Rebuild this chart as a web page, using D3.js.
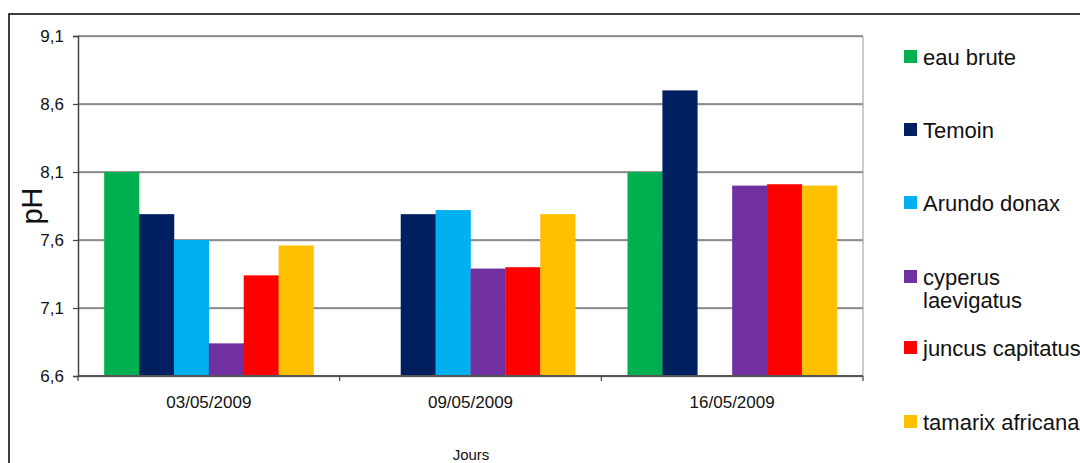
<!DOCTYPE html>
<html>
<head>
<meta charset="utf-8">
<script src="https://cdn.jsdelivr.net/npm/d3@7"></script>
<style>
  html, body { margin: 0; padding: 0; background: #fff; }
  svg { display: block; font-family: "Liberation Sans", Arial, sans-serif; }
</style>
</head>
<body>
<svg id="chart" width="1080" height="463"></svg>
<script>
// ---- data ----
const categories = ["03/05/2009", "09/05/2009", "16/05/2009"];
const seriesNames = ["eau brute", "Temoin", "Arundo donax", "cyperus laevigatus", "juncus capitatus", "tamarix africana"];
const seriesColors = ["#00B050", "#002060", "#00B0F0", "#7030A0", "#FF0000", "#FFC000"];
const eauBrute   = [8.1, null, 8.1];
const temoin     = [7.79, 7.79, 8.7];
const arundo     = [7.6, 7.82, null];
const cyperus    = [6.84, 7.39, 8.0];
const juncus     = [7.34, 7.4, 8.01];
const tamarix    = [7.56, 7.79, 8.0];
const yTicks     = [6.6, 7.1, 7.6, 8.1, 8.6, 9.1];
const yTitle = "pH";
const xTitle = "Jours";

const seriesValues = [eauBrute, temoin, arundo, cyperus, juncus, tamarix];

const svg = d3.select("#chart");
const plot = { left: 78, right: 863, top: 36, bottom: 376 };

// outer border
svg.append("rect")
  .attr("x", 9).attr("y", 14).attr("width", 1100).attr("height", 500)
  .attr("fill", "none").attr("stroke", "#000").attr("stroke-width", 1.5);

const y = d3.scaleLinear().domain([6.6, 9.1]).range([plot.bottom, plot.top]);
const x0 = d3.scaleBand().domain(categories).range([plot.left, plot.right])
  .paddingInner(0).paddingOuter(0);
const bw = x0.bandwidth() / (seriesNames.length + 1.5);
const groupPad = (x0.bandwidth() - bw * seriesNames.length) / 2;

const fmt = d3.formatLocale({ decimal: ",", thousands: " ", grouping: [3], currency: ["", ""] }).format(".1f");

// gridlines
const grid = svg.append("g");
yTicks.forEach(t => {
  grid.append("line")
    .attr("x1", plot.left).attr("x2", plot.right)
    .attr("y1", y(t) + 1).attr("y2", y(t) + 1)
    .attr("stroke", "#d0d0d0").attr("stroke-width", 1);
  grid.append("line")
    .attr("x1", plot.left).attr("x2", plot.right)
    .attr("y1", y(t)).attr("y2", y(t))
    .attr("stroke", "#333").attr("stroke-width", 1.2);
});

// right plot border
svg.append("line")
  .attr("x1", plot.right).attr("x2", plot.right)
  .attr("y1", plot.top).attr("y2", plot.bottom)
  .attr("stroke", "#999").attr("stroke-width", 1);

// bars
const bars = svg.append("g");
seriesValues.forEach((vals, si) => {
  vals.forEach((v, ci) => {
    if (v === null) return;
    const bx = x0(categories[ci]) + groupPad + si * bw;
    bars.append("rect")
      .attr("x", bx).attr("y", y(v))
      .attr("width", bw + 0.3).attr("height", y(6.6) - y(v))
      .attr("fill", seriesColors[si]);
  });
});

// y axis
const yAxis = d3.axisLeft(y).tickValues(yTicks).tickFormat(fmt).tickSize(5).tickPadding(9);
const yg = svg.append("g").attr("transform", `translate(${plot.left},0)`).call(yAxis);
yg.select(".domain").attr("stroke", "#444").attr("stroke-width", 1.5);
yg.selectAll(".tick line").attr("stroke", "#444").attr("stroke-width", 1.2);
yg.selectAll(".tick text").attr("font-size", 17).attr("fill", "#111")
  .attr("font-family", "Liberation Sans, Arial, sans-serif");

// x axis baseline
svg.append("line")
  .attr("x1", plot.left).attr("x2", plot.right)
  .attr("y1", plot.bottom).attr("y2", plot.bottom)
  .attr("stroke", "#555").attr("stroke-width", 2);

// category boundary ticks
const boundaries = categories.map(c => x0(c)).concat([plot.right]);
boundaries.forEach(bx => {
  svg.append("line")
    .attr("x1", bx).attr("x2", bx)
    .attr("y1", plot.bottom).attr("y2", plot.bottom + 5)
    .attr("stroke", "#444").attr("stroke-width", 1.2);
});

// category labels
categories.forEach(c => {
  svg.append("text")
    .attr("x", x0(c) + x0.bandwidth() / 2).attr("y", 408)
    .attr("text-anchor", "middle").attr("font-size", 17).attr("fill", "#111")
    .text(c);
});

// axis titles
svg.append("text")
  .attr("transform", "translate(42,206) rotate(-90)")
  .attr("text-anchor", "middle").attr("font-size", 29).attr("fill", "#111")
  .text(yTitle);
svg.append("text")
  .attr("x", 471).attr("y", 460)
  .attr("text-anchor", "middle").attr("font-size", 15).attr("fill", "#111")
  .text(xTitle);

// legend
const legendY = [57, 130, 203, 277, 348, 422];
const lg = svg.append("g");
seriesNames.forEach((name, i) => {
  lg.append("rect")
    .attr("x", 904).attr("y", legendY[i] - 7)
    .attr("width", 13).attr("height", 13)
    .attr("fill", seriesColors[i]);
  const words = name === "cyperus laevigatus" ? ["cyperus", "laevigatus"] : [name];
  const t = lg.append("text")
    .attr("x", 923).attr("y", legendY[i] + 8)
    .attr("font-size", 22).attr("fill", "#111");
  words.forEach((w, wi) => {
    t.append("tspan").attr("x", 923).attr("dy", wi === 0 ? 0 : 23).text(w);
  });
});
</script>
</body>
</html>
